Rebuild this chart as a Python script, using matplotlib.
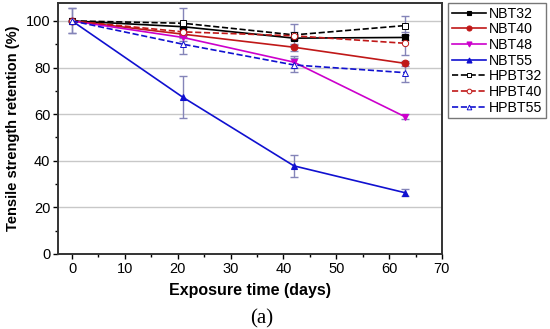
import numpy as np
import matplotlib.pyplot as plt

plt.rcParams['font.family'] = ['Liberation Sans', 'DejaVu Sans']

days = [0, 21, 42, 63]

nbt32 = [100, 97.5, 92.6, 92.9]
nbt40 = [100, 94.3, 88.7, 81.8]
nbt48 = [100, 92.9, 82.3, 58.9]
nbt55 = [100, 67.2, 37.8, 26.3]
hpbt32 = [100, 99.0, 94.0, 98.0]
hpbt40 = [100, 95.3, 93.6, 90.4]
hpbt55 = [100, 90.0, 81.1, 77.8]

nbt32_err = [0, 1.0, 1.0, 1.0]
nbt40_err = [0, 1.0, 1.5, 1.0]
nbt48_err = [5.4, 1.5, 2.5, 1.0]
nbt55_err = [5.4, 9.0, 4.7, 1.5]
hpbt32_err = [0, 6.5, 4.5, 4.0]
hpbt40_err = [0, 1.5, 1.5, 5.0]
hpbt55_err = [0, 4.0, 3.0, 4.0]

series = [
    ("NBT32", nbt32, nbt32_err, "black", "s", "-", True),
    ("NBT40", nbt40, nbt40_err, "#c01818", "o", "-", True),
    ("NBT48", nbt48, nbt48_err, "#cc00cc", "v", "-", True),
    ("NBT55", nbt55, nbt55_err, "#1010d0", "^", "-", True),
    ("HPBT32", hpbt32, hpbt32_err, "black", "s", "--", False),
    ("HPBT40", hpbt40, hpbt40_err, "#c01818", "o", "--", False),
    ("HPBT55", hpbt55, hpbt55_err, "#1010d0", "^", "--", False),
]

fig = plt.figure(figsize=(5.5, 3.29), dpi=100)
ax = fig.add_axes([0.1055, 0.228, 0.698, 0.763])

handles = []
for name, vals, err, col, mk, ls, filled in series:
    ax.errorbar(days, vals, yerr=err, fmt="none", ecolor="#8484b8",
                elinewidth=1.0, capsize=3, capthick=1.0, zorder=2)
    h, = ax.plot(days, vals, color=col, linestyle=ls, linewidth=1.2,
                 marker=mk, markersize=4.8 if filled else 4.5,
                 markerfacecolor=col if filled else "white",
                 markeredgecolor=col, markeredgewidth=0.8 if filled else 0.7,
                 label=name, zorder=3)
    handles.append(h)

ax.set_xlim(-2.65, 70)
ax.set_ylim(0, 107.7)
ax.set_xticks(np.arange(0, 71, 10))
ax.set_xticks(np.arange(5, 70, 10), minor=True)
ax.set_yticks(np.arange(0, 101, 20))
ax.set_yticks(np.arange(10, 101, 20), minor=True)
ax.yaxis.grid(True, color="#c8c8c8", linewidth=1.0)
ax.set_axisbelow(True)
ax.tick_params(axis="both", which="major", direction="out", length=3.5,
               width=1.0, labelsize=10.5, pad=2)
ax.tick_params(axis="both", which="minor", direction="out", length=2, width=1.0)
for s in ax.spines.values():
    s.set_linewidth(1.4)
    s.set_color("#333333")

ax.set_xlabel("Exposure time (days)", fontsize=11.5, fontweight="bold", labelpad=5)
ax.set_ylabel("Tensile strength retention (%)", fontsize=10.5, fontweight="bold", labelpad=4)

leg = fig.legend(handles=handles, loc="upper left",
                 bbox_to_anchor=(448 / 550, 1 - 3 / 329),
                 fontsize=10.2, frameon=True, fancybox=False, markerscale=0.75,
                 handlelength=2.4, handletextpad=0.25, labelspacing=0.12,
                 borderpad=0.25, borderaxespad=0)
leg.get_frame().set_edgecolor("#555555")
leg.get_frame().set_linewidth(1.0)

fig.text(0.475, 0.018, "(a)", fontsize=15, family="Liberation Serif", ha="center",
         va="baseline")

fig.savefig("out.png", dpi=100)
